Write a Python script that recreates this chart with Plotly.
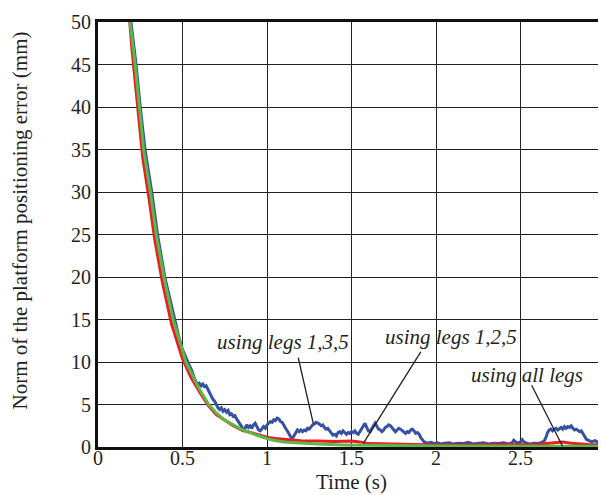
import plotly.graph_objects as go

# ---------------- data ----------------
green_time = [0.185, 0.19, 0.205, 0.22, 0.245, 0.27, 0.31, 0.345, 0.39, 0.445, 0.52, 0.56, 0.60,
              0.655, 0.70, 0.74, 0.79, 0.84, 0.90, 0.94, 1.00, 1.04, 1.10, 1.20, 1.30, 1.45,
              1.60, 1.80, 2.00, 2.50, 3.00]
green_err = [51.5, 50, 47.5, 45, 40, 35, 30, 25, 20, 15, 10, 8.3, 6.8,
             5.0, 4.0, 3.3, 2.7, 2.16, 1.7, 1.38, 1.0, 0.8, 0.6, 0.45, 0.35, 0.25,
             0.2, 0.15, 0.12, 0.1, 0.1]

red_time = [0.182, 0.187, 0.2, 0.215, 0.24, 0.265, 0.30, 0.335, 0.38, 0.435, 0.50, 0.55, 0.60,
            0.655, 0.70, 0.75, 0.80, 0.85, 0.90, 0.95, 1.00, 1.05, 1.10, 1.20, 1.30, 1.40,
            1.50, 1.55, 1.60, 1.70, 1.80, 1.90, 2.00, 2.20, 2.40, 2.60, 2.70, 2.75, 2.80,
            2.90, 3.00]
red_err = [51.5, 50, 47, 44, 39, 34, 29.5, 24.5, 19.5, 14.5, 10.4, 8.2, 6.5,
           4.8, 3.8, 3.1, 2.5, 2.0, 1.7, 1.4, 1.15, 1.0, 0.9, 0.75, 0.7, 0.65,
           0.7, 0.6, 0.4, 0.35, 0.3, 0.3, 0.25, 0.25, 0.3, 0.3, 0.5, 0.6, 0.45,
           0.3, 0.25]

blue_time = [0.19, 0.195, 0.21, 0.225, 0.25, 0.278, 0.318, 0.352, 0.395, 0.452, 0.48, 0.497,
             0.51, 0.525, 0.54, 0.555, 0.57, 0.58, 0.59, 0.60, 0.61, 0.62, 0.63, 0.64, 0.65,
             0.66, 0.67, 0.68, 0.69, 0.70, 0.71, 0.72, 0.73, 0.74, 0.75, 0.76, 0.77, 0.78,
             0.79, 0.80, 0.81, 0.82, 0.83, 0.84, 0.85, 0.86, 0.87, 0.88, 0.89, 0.90, 0.91,
             0.92, 0.93, 0.94, 0.95, 0.96, 0.97, 0.98, 0.99, 1.00, 1.01, 1.02, 1.03, 1.04,
             1.05, 1.06, 1.07, 1.08, 1.09, 1.10, 1.11, 1.12, 1.13, 1.14, 1.15, 1.16, 1.17,
             1.18, 1.19, 1.20, 1.21, 1.22, 1.23, 1.24, 1.25, 1.26, 1.27, 1.28, 1.29, 1.30,
             1.31, 1.32, 1.33, 1.34, 1.35, 1.36, 1.37, 1.38, 1.39, 1.40, 1.41, 1.42, 1.43,
             1.44, 1.45, 1.46, 1.47, 1.48, 1.49, 1.50, 1.51, 1.52, 1.53, 1.54, 1.55, 1.56,
             1.57, 1.58, 1.59, 1.60, 1.61, 1.62, 1.63, 1.64, 1.65, 1.66, 1.67, 1.68, 1.69,
             1.70, 1.71, 1.72, 1.73, 1.74, 1.75, 1.76, 1.77, 1.78, 1.79, 1.80, 1.81, 1.82,
             1.83, 1.84, 1.85, 1.86, 1.87, 1.88, 1.89, 1.90, 1.91, 1.92, 1.93, 1.94, 1.95,
             1.97, 1.99, 2.01, 2.03, 2.05, 2.08, 2.10, 2.13, 2.16, 2.19, 2.22, 2.25, 2.28,
             2.31, 2.34, 2.37, 2.40, 2.43, 2.45, 2.46, 2.47, 2.48, 2.50, 2.51, 2.52, 2.54,
             2.56, 2.58, 2.60, 2.62, 2.64, 2.65, 2.66, 2.67, 2.68, 2.69, 2.70, 2.71, 2.72,
             2.73, 2.74, 2.75, 2.76, 2.77, 2.78, 2.79, 2.80, 2.81, 2.82, 2.83, 2.84, 2.85,
             2.86, 2.87, 2.88, 2.89, 2.90, 2.92, 2.94, 2.96, 2.98, 3.00]
blue_err = [51.5, 50, 47.5, 45, 40, 35, 30, 25, 20, 15, 12.8, 11.6,
            10.9, 10.3, 9.6, 9.0, 8.1, 7.6, 7.3, 7.5, 7.2, 7.4, 7.1, 7.2, 6.8,
            6.4, 6.0, 5.6, 5.4, 5.0, 4.6, 4.4, 4.6, 4.2, 4.4, 4.1, 4.3, 3.8,
            3.9, 3.6, 3.7, 3.3, 3.0, 2.8, 2.4, 2.0, 2.2, 2.6, 2.3, 2.5, 2.2,
            2.6, 2.8, 2.4, 2.0, 1.9, 2.2, 2.4, 2.2, 2.6, 2.8, 3.0, 2.9, 3.2,
            3.1, 3.4, 3.3, 3.0, 2.9, 2.5, 2.2, 1.9, 1.5, 1.2, 1.0, 1.3, 1.6,
            2.0, 1.8, 2.0, 1.8, 2.0, 1.9, 2.2, 2.1, 2.4, 2.6, 2.7, 2.9, 2.8,
            2.7, 2.5, 2.6, 2.3, 2.1, 2.2, 1.9, 1.7, 1.4, 1.5, 1.3, 1.7, 1.8,
            1.6, 1.9, 1.7, 1.5, 1.7, 1.6, 1.8, 1.7, 1.9, 1.6, 1.5, 1.8, 2.2,
            2.4, 2.8, 2.3, 1.9, 1.8, 2.2, 2.5, 2.8, 2.4, 2.1, 2.0, 1.8, 2.0,
            2.3, 2.4, 2.6, 2.5, 2.3, 2.0, 1.8, 2.0, 2.2, 2.1, 1.9, 1.7, 1.6,
            1.8, 1.7, 2.0, 2.1, 1.9, 1.6, 1.7, 1.5, 1.1, 0.8, 0.6, 0.5, 0.45,
            0.55, 0.4, 0.5, 0.35, 0.45, 0.5, 0.35, 0.45, 0.4, 0.55, 0.35, 0.4, 0.5,
            0.35, 0.45, 0.4, 0.5, 0.35, 0.5, 0.8, 0.6, 0.45, 0.6, 0.85, 0.6, 0.4,
            0.35, 0.45, 0.4, 0.5, 0.7, 1.1, 1.7, 2.0, 2.1, 1.9, 2.1, 2.2, 2.0,
            2.2, 2.3, 2.1, 2.4, 2.2, 2.4, 2.3, 2.5, 2.2, 2.0, 2.1, 1.9, 1.8,
            1.9, 1.6, 1.2, 0.9, 0.8, 0.6, 0.75, 0.55, 0.7, 0.55]

x_ticks = [0, 0.5, 1, 1.5, 2, 2.5, 3]
x_tick_labels = ["0", "0.5", "1", "1.5", "2", "2.5", "3"]
y_ticks = [0, 5, 10, 15, 20, 25, 30, 35, 40, 45, 50]

# annotation labels: text, text position, line start, line end (data units)
note_texts = ["using legs 1,3,5", "using legs 1,2,5", "using all legs"]
note_text_t = [1.093, 2.089, 2.537]
note_text_y = [12.4, 12.9, 8.5]
note_line_t0 = [1.185, 1.910, 2.566]
note_line_y0 = [10.5, 11.2, 7.26]
note_line_t1 = [1.274, 1.571, 2.749]
note_line_y1 = [2.75, 0.45, 0.08]

FONT = "Liberation Serif"
INK = "#231f20"

fig = go.Figure()
fig.add_trace(go.Scatter(x=blue_time, y=blue_err, mode="lines",
                         line=dict(color="#3550a5", width=3), name="using legs 1,3,5"))
fig.add_trace(go.Scatter(x=red_time, y=red_err, mode="lines",
                         line=dict(color="#ec1c24", width=3), name="using legs 1,2,5"))
fig.add_trace(go.Scatter(x=green_time, y=green_err, mode="lines",
                         line=dict(color="#5ab946", width=3), name="using all legs"))

for i in range(len(note_texts)):
    fig.add_shape(type="line", xref="x", yref="y",
                  x0=note_line_t0[i], y0=note_line_y0[i],
                  x1=note_line_t1[i], y1=note_line_y1[i],
                  line=dict(color=INK, width=1.3))
    fig.add_annotation(x=note_text_t[i], y=note_text_y[i], xref="x", yref="y",
                       text="<i>" + note_texts[i] + "</i>", showarrow=False,
                       font=dict(family=FONT, size=21, color=INK))

# axis titles placed in paper coordinates
fig.add_annotation(x=0.5, y=-0.082, xref="paper", yref="paper", yanchor="middle",
                   text="Time (s)", showarrow=False,
                   font=dict(family=FONT, size=21, color=INK))
fig.add_annotation(x=-0.152, y=0.533, xref="paper", yref="paper", textangle=-90,
                   xanchor="center", yanchor="middle",
                   text="Norm of the platform positioning error (mm)", showarrow=False,
                   font=dict(family=FONT, size=21, color=INK))

# page body has an 8px margin: size the figure to the visible part of the window
fig.update_layout(
    width=598, height=487,
    margin=dict(l=89.5, r=1, t=13.5, b=48.3),
    paper_bgcolor="white", plot_bgcolor="white",
    showlegend=False,
)
fig.update_xaxes(range=[0, 3], tickvals=x_ticks, ticktext=x_tick_labels,
                 showgrid=True, gridcolor="#222", gridwidth=1.4,
                 showline=True, linecolor="#111", linewidth=3, mirror=True,
                 ticks="", zeroline=False, automargin=False, ticklabelstandoff=-9,
                 tickfont=dict(family=FONT, size=20, color=INK))
fig.update_yaxes(range=[0, 50], tickvals=y_ticks,
                 showgrid=True, gridcolor="#222", gridwidth=1.4,
                 showline=True, linecolor="#111", linewidth=3, mirror=True,
                 ticks="", zeroline=False, automargin=False,
                 tickfont=dict(family=FONT, size=20, color=INK))

fig.write_html("out.html")
